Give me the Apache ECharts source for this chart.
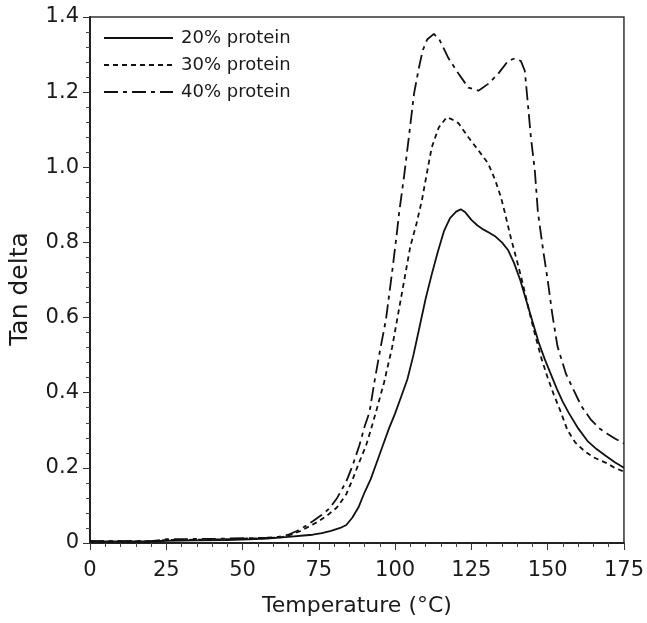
<!DOCTYPE html>
<html>
<head>
<meta charset="utf-8">
<script src="https://cdn.jsdelivr.net/npm/echarts@6/dist/echarts.min.js"></script>
<style>
html,body{margin:0;padding:0;background:#fff;}
#chart{width:647px;height:623px;}
</style>
</head>
<body>
<div id="chart"></div>
<script>
// ---- data ----
var seriesNames = ['20% protein', '30% protein', '40% protein'];
var xTicks = [0, 25, 50, 75, 100, 125, 150, 175];
var yTicks = [0, 0.2, 0.4, 0.6, 0.8, 1.0, 1.2, 1.4];

var temp20 = [0, 10, 20, 25, 35, 45, 52, 58, 63, 66, 70, 73, 76, 79, 82, 84, 86, 88, 90, 92, 94, 96, 98, 100, 102, 104, 106, 108, 110, 112, 114, 116, 118, 120, 121.5, 123, 125, 127, 129, 131, 133, 135, 137, 139, 141, 143, 145, 147, 149, 151, 153, 155, 157, 160, 163, 166, 169, 172, 175];
var tan20  = [0.004, 0.004, 0.004, 0.006, 0.007, 0.008, 0.01, 0.012, 0.015, 0.017, 0.02, 0.022, 0.026, 0.032, 0.04, 0.048, 0.068, 0.095, 0.135, 0.17, 0.215, 0.26, 0.305, 0.345, 0.39, 0.435, 0.5, 0.575, 0.65, 0.715, 0.775, 0.83, 0.865, 0.882, 0.888, 0.88, 0.86, 0.845, 0.834, 0.825, 0.815, 0.8, 0.78, 0.745, 0.7, 0.645, 0.59, 0.535, 0.49, 0.45, 0.41, 0.375, 0.345, 0.305, 0.272, 0.25, 0.232, 0.215, 0.2];

var temp30 = [0, 20, 25, 40, 52, 58, 63, 66, 69, 72, 75, 78, 81, 84, 86.2, 88, 90.5, 92, 93.7, 96.4, 99, 101, 103, 105, 107, 108.8, 110.4, 112, 114.3, 116.9, 118.5, 120.8, 124, 127.3, 130.5, 132.8, 134.7, 136, 138, 140.3, 142, 144, 146, 148, 150, 152, 154, 156.5, 159, 162, 165, 169.5, 172, 175];
var tan30  = [0.004, 0.004, 0.008, 0.009, 0.012, 0.013, 0.016, 0.022, 0.032, 0.045, 0.058, 0.075, 0.095, 0.13, 0.172, 0.21, 0.26, 0.3, 0.348, 0.428, 0.52, 0.61, 0.7, 0.79, 0.85, 0.913, 0.984, 1.053, 1.106, 1.133, 1.128, 1.117, 1.08, 1.045, 1.01, 0.966, 0.92, 0.878, 0.81, 0.74, 0.685, 0.615, 0.55, 0.49, 0.44, 0.395, 0.355, 0.3, 0.268, 0.245, 0.228, 0.212, 0.2, 0.19];

var temp40 = [0, 20, 25, 40, 52, 58, 62, 65, 67.8, 70, 73, 76, 78.6, 81, 84, 86, 88.3, 90, 91.6, 93.2, 95, 97, 99, 100.5, 101.3, 102.9, 104.5, 106.2, 107.8, 109, 110.5, 112.7, 114.5, 117.5, 120.8, 124, 127.3, 130.5, 133.8, 137, 139.3, 141.2, 142.5, 143.5, 144.5, 145.8, 146.8, 148.5, 150, 151.5, 153.2, 156, 158.8, 161, 164, 167, 169.5, 172, 175];
var tan40  = [0.005, 0.005, 0.01, 0.011, 0.013, 0.014, 0.017, 0.022, 0.032, 0.042, 0.058, 0.075, 0.093, 0.12, 0.164, 0.205, 0.26, 0.31, 0.348, 0.428, 0.51, 0.595, 0.72, 0.82, 0.878, 0.974, 1.08, 1.196, 1.265, 1.31, 1.34, 1.355, 1.34, 1.29, 1.249, 1.212, 1.204, 1.222, 1.249, 1.283, 1.29, 1.283, 1.257, 1.17, 1.08, 0.99, 0.88, 0.78, 0.7, 0.61, 0.524, 0.45, 0.402, 0.365, 0.33, 0.305, 0.291, 0.278, 0.265];

function pairs(xs, ys) {
  var out = [];
  for (var i = 0; i < xs.length; i++) out.push([xs[i], ys[i]]);
  return out;
}

var FONT = '"DejaVu Sans", sans-serif';
var INK = '#1a1a1a';

var chart = echarts.init(document.getElementById('chart'), null, {renderer: 'canvas'});
var option = {
  animation: false,
  backgroundColor: '#ffffff',
  textStyle: {fontFamily: FONT, color: INK},
  grid: {
    left: 88, right: 20, top: 17, bottom: 80,
    show: true, borderColor: '#333', borderWidth: 1.5, backgroundColor: 'transparent'
  },
  legend: {
    orient: 'vertical',
    left: 103, top: 29, padding: 0,
    itemWidth: 69, itemHeight: 18, itemGap: 9,
    data: seriesNames,
    itemStyle: {opacity: 0},
    textStyle: {fontFamily: FONT, fontSize: 18, color: INK, padding: [0, 0, 0, 3]}
  },
  xAxis: {
    type: 'value',
    min: xTicks[0], max: xTicks[xTicks.length - 1], interval: 25,
    name: 'Temperature (°C)',
    nameLocation: 'middle', nameGap: 52,
    nameTextStyle: {fontFamily: FONT, fontSize: 22, color: INK},
    axisLine: {show: true, onZero: false, lineStyle: {color: '#222', width: 2}},
    axisTick: {show: true, length: 7, lineStyle: {color: '#333', width: 1}},
    minorTick: {show: true, splitNumber: 5, length: 4, lineStyle: {color: '#444', width: 1}},
    splitLine: {show: false},
    axisLabel: {fontFamily: FONT, fontSize: 21, color: INK, margin: 17}
  },
  yAxis: {
    type: 'value',
    min: yTicks[0], max: yTicks[yTicks.length - 1], interval: 0.2,
    name: 'Tan delta',
    nameLocation: 'middle', nameGap: 57, nameRotate: 90,
    nameTextStyle: {fontFamily: FONT, fontSize: 25, color: INK, padding: [0, 0, 0, -18]},
    axisLine: {show: true, onZero: false, lineStyle: {color: '#222', width: 2}},
    axisTick: {show: true, length: 7, lineStyle: {color: '#333', width: 1}},
    minorTick: {show: true, splitNumber: 5, length: 4, lineStyle: {color: '#444', width: 1}},
    splitLine: {show: false},
    axisLabel: {
      fontFamily: FONT, fontSize: 21, color: INK, margin: 11,
      formatter: function (v) { return v === 0 ? '0' : v.toFixed(1); }
    }
  },
  series: [
    {
      name: seriesNames[0], type: 'line', showSymbol: false, symbol: 'circle', symbolSize: 0,
      data: pairs(temp20, tan20),
      lineStyle: {color: '#111', width: 1.8, type: 'solid'},
      itemStyle: {color: '#111'}
    },
    {
      name: seriesNames[1], type: 'line', showSymbol: false, symbol: 'circle', symbolSize: 0,
      data: pairs(temp30, tan30),
      lineStyle: {color: '#111', width: 1.8, type: [5, 4]},
      itemStyle: {color: '#111'}
    },
    {
      name: seriesNames[2], type: 'line', showSymbol: false, symbol: 'circle', symbolSize: 0,
      data: pairs(temp40, tan40),
      lineStyle: {color: '#111', width: 1.8, type: [14, 5, 4, 5]},
      itemStyle: {color: '#111'}
    }
  ]
};
chart.setOption(option);
</script>
</body>
</html>
